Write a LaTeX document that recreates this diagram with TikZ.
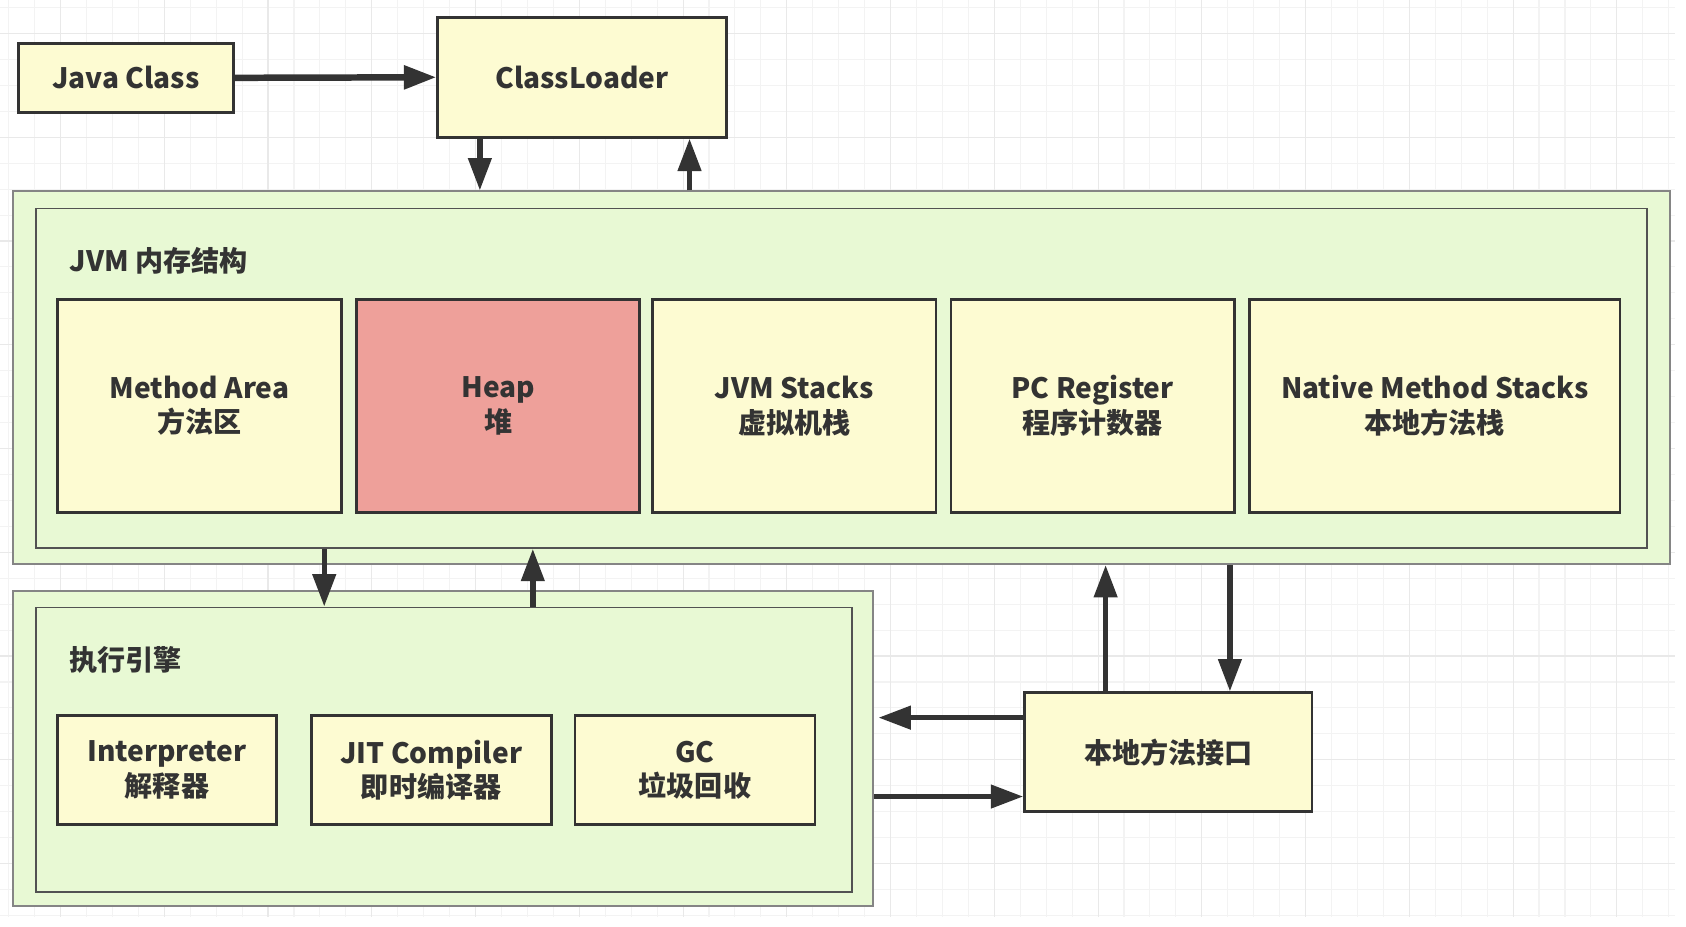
\documentclass[tikz,border=0pt]{standalone}
\usepackage{fontspec}
\setmainfont{Noto Sans CJK SC}
\usetikzlibrary{arrows.meta}
\definecolor{boxyellow}{HTML}{FDFBD2}
\definecolor{boxgreen}{HTML}{E8F9D4}
\definecolor{heapred}{HTML}{EEA09A}
\definecolor{ink}{HTML}{333333}
\definecolor{gridminor}{HTML}{F3F3F3}
\definecolor{gridmajor}{HTML}{E9E9E9}
\tikzset{
  txt/.style={font=\fontsize{13}{16}\selectfont\bfseries, text=ink, align=center},
  ybox/.style={txt, draw=ink, line width=1.25pt, fill=boxyellow, inner sep=0pt},
  gouter/.style={draw=ink!60, line width=0.8pt, fill=boxgreen, inner sep=0pt},
  ginner/.style={draw=ink!85, line width=0.8pt, inner sep=0pt},
  arr/.style={draw=ink, line width=2.5pt, -{Triangle[length=15pt,width=10.5pt]}},
  grp/.style={txt, anchor=west, inner sep=0pt}
}
\begin{document}
\begin{tikzpicture}[x=0.5pt,y=-0.5pt]
\useasboundingbox (0,0) rectangle (1560,857.7);
\fill[white] (0,0) rectangle (1560,857.7);
% grid
\foreach \x in {8,32,...,1550} \draw[gridminor, line width=0.5pt] (\x,0) -- (\x,848);
\foreach \y in {7,31,...,848} \draw[gridminor, line width=0.5pt] (0,\y) -- (1550,\y);
\foreach \x in {56,152,...,1550} \draw[gridmajor, line width=0.5pt] (\x,0) -- (\x,848);
\foreach \y in {31,127,...,848} \draw[gridmajor, line width=0.5pt] (0,\y) -- (1550,\y);

% top
\node[ybox, minimum width=99.5pt, minimum height=32pt] (jc) at (116.5,72) {Java Class};
\node[ybox, minimum width=133.5pt, minimum height=55.5pt] (cl) at (538.5,71.5) {ClassLoader};

% JVM memory
\node[gouter, minimum width=766.5pt, minimum height=172.5pt] (jvmo) at (778.5,349.5) {};
\node[ginner, minimum width=745.5pt, minimum height=157pt] (jvmi) at (778.5,350) {};
\node[grp] (jvml) at (64,241) {JVM 内存结构};
\node[ybox, minimum width=131.5pt, minimum height=98.5pt] (ma) at (184.5,375.5) {Method Area\\方法区};
\node[ybox, fill=heapred, minimum width=131pt, minimum height=98.5pt] (heap) at (461,375.5) {Heap\\堆};
\node[ybox, minimum width=131pt, minimum height=98.5pt] (js) at (735,375.5) {JVM Stacks\\虚拟机栈};
\node[ybox, minimum width=131pt, minimum height=98.5pt] (pc) at (1011,375.5) {PC Register\\程序计数器};
\node[ybox, minimum width=171.5pt, minimum height=98.5pt] (nms) at (1327.5,375.5) {Native Method Stacks\\本地方法栈};

% execution engine
\node[gouter, minimum width=398pt, minimum height=145.5pt] (exo) at (410,692.5) {};
\node[ginner, minimum width=377.5pt, minimum height=131.5pt] (exi) at (410.5,693.5) {};
\node[grp] (exl) at (64,611) {执行引擎};
\node[ybox, minimum width=101.5pt, minimum height=50.5pt] (interp) at (154.5,712.5) {Interpreter\\解释器};
\node[ybox, minimum width=111pt, minimum height=50.5pt] (jit) at (399,712.5) {JIT Compiler\\即时编译器};
\node[ybox, minimum width=111pt, minimum height=50.5pt] (gc) at (643,712.5) {GC\\垃圾回收};

% native interface
\node[ybox, minimum width=133pt, minimum height=55pt] (nif) at (1081,696) {本地方法接口};

% guide coordinates
\coordinate (a1) at (444,0);
\coordinate (a2) at (638,0);
\coordinate (a3) at (300,0);
\coordinate (a4) at (493,0);
\coordinate (a5) at (1023,0);
\coordinate (a6) at (1138,0);
\coordinate (b1) at (0,664);
\coordinate (b2) at (0,737);

% connectors
\draw[arr, line width=3pt] (jc.east) -- (cl.west);
\draw[arr] (cl.south -| a1) -- (jvmo.north -| a1);
\draw[arr] (jvmo.north -| a2) -- (cl.south -| a2);
\draw[arr] (jvmi.south -| a3) -- (exi.north -| a3);
\draw[arr] (exi.north -| a4) -- (jvmi.south -| a4);
\draw[arr] (nif.north -| a5) -- (jvmo.south -| a5);
\draw[arr] (jvmo.south -| a6) -- (nif.north -| a6);
\draw[arr] (nif.west |- b1) -- ([xshift=2pt]exo.east |- b1);
\draw[arr] (exo.east |- b2) -- (nif.west |- b2);
\end{tikzpicture}
\end{document}
